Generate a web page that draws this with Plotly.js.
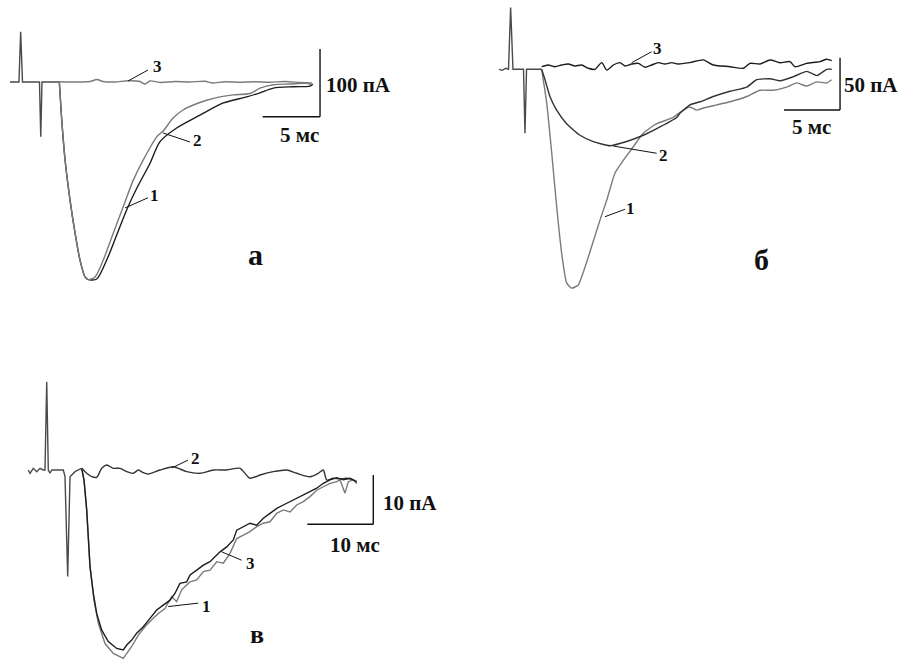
<!DOCTYPE html>
<html>
<head>
<meta charset="utf-8">
<script src="https://cdn.plot.ly/plotly-3.0.1.min.js"></script>
<style>html,body{margin:0;padding:0;background:#fff;}#chart{width:905px;height:660px;}</style>
</head>
<body>
<div id="chart"></div>
<script>
// ---------- Panel а (time, ms ; current, pA) ----------
const artA_t = [0, 0.5, 0.78, 0.93, 1.09, 1.5, 2.57, 2.68, 2.79, 3.2, 3.9, 4.3];
const artA_i = [0, 0, 0, 74, 0, 0, 0, -81, 0, 0, 0, 0];
const a1_t = [4.30,4.40,4.51,4.80,5.23,5.67,6.10,6.54,6.83,7.56,8.43,9.30,10.17,11.05,12.21,13.08,14.53,16.56,18.6,20.64,21.80,22.96,24.70,26.16,26.4];
const a1_i = [0,-27,-56,-115,-174,-223,-263,-288,-292,-291,-263,-226,-189,-157,-120,-88,-68,-49,-31,-22,-16,-9,-7,-6,-3];
const a2_t = [4.30,4.40,4.51,4.80,5.23,5.67,6.10,6.54,6.83,7.41,8.13,9.01,9.88,10.75,11.62,12.79,13.37,14.24,15.11,15.98,17.15,18.31,19.47,20.92,21.80,22.96,24.41,25.87,26.30];
const a2_i = [0,-27,-56,-115,-174,-223,-263,-288,-292,-288,-263,-223,-184,-145,-115,-81,-72,-53,-41,-34,-27,-22,-19,-17,-9,-4,-3,-2,-4];
const a3_t = [4.30,5.67,6.97,7.58,8.11,9.15,10.29,11.33,11.77,12.21,13.08,14.39,15.69,17.0,17.61,18.74,20.05,21.36,22.67,23.98,25.28,26.33];
const a3_i = [0.4,0,0.7,3.7,0.7,0,1.9,0.7,-3,1.5,-0.7,0.7,0,1.0,-1.5,0.4,-0.4,0.4,-0.4,0.7,-0.7,-1.5];
const scaleA = {ms: 5, pA: 100};

// ---------- Panel б ----------
const artB_t = [0, 0.3, 0.6, 0.85, 1.04, 1.25, 1.6, 2.1, 2.19, 2.32, 2.46, 2.6, 3.81];
const artB_i = [0, -1, 1, 0, 59, 0, 0, 0, 0, -61, 0, 0, 0];
const b1_t = [3.81,4.26,4.71,5.15,5.60,6.04,6.49,7.08,7.68,8.28,9.02,9.62,10.36,11.1,11.99,12.88,14.08,15.56,16.16,17.05,17.65,18.25,19.44,20.63,22.12,23.3,24.49,25.68,26.58,27.47,28.37,29.26,29.7];
const b1_i = [0,-32,-80,-131,-176,-204,-209,-206,-189,-169,-144,-125,-99,-87,-74,-61,-52,-46,-41,-36,-39,-37,-34,-31,-26,-20,-20,-17,-13,-16,-12,-13,-10];
const b2_t = [3.81,4.11,4.55,5.15,6.04,7.23,8.42,9.91,11.4,12.88,14.38,15.87,16.16,17.05,17.95,19.13,20.63,22.12,23.0,24.2,25.1,26.3,27.47,28.4,29.26,29.7];
const b2_i = [0,-10,-26,-39,-52,-63,-69,-73,-69,-63,-55,-46,-42,-34,-31,-26,-21,-17,-10,-9,-11,-7,-2,-6,0,0];
const b3_t = [3.81,4.40,5.0,5.60,6.19,6.79,7.38,7.97,8.57,9.17,9.62,10.21,10.80,11.25,11.85,12.44,13.04,13.63,14.22,14.82,15.42,16.0,17.05,18.24,19.13,20.63,21.81,22.41,23.3,24.2,25.09,25.98,26.43,27.47,28.66,29.26,29.71];
const b3_i = [2.5,4.1,2.5,4.1,5.0,3.2,4.1,1.0,0,6.4,-0.7,4.1,6.4,3.2,5.0,5.7,1.9,4.1,6.4,5.0,6.4,5.0,6.4,9.0,4.1,2.5,1.0,5.7,5.1,8.9,6.3,7.3,2.5,5.7,7.3,9.6,8.2];
const scaleB = {ms: 5, pA: 50};

// ---------- Panel в ----------
const artV_t = [0,0.26,0.76,1.27,1.77,2.27,2.53,2.79,3.03,3.29,3.55,5.30,5.56,5.97,6.32,6.58,7.08,7.58,8.09];
const artV_i = [0,-0.67,0.34,-0.34,0.34,0,0,17.9,0,-0.67,0,0,-1.36,-21.6,-1.36,-1.0,-0.34,0,0.34];
const v1_t = [8.09,8.44,8.85,9.12,9.35,9.95,10.61,11.62,12.88,14.39,14.91,15.67,16.67,17.68,18.7,19.7,20.71,21.73,22.48,23.24,24.5,25.52,26.52,27.53,28.55,29.55,30.56,31.58,32.58,33.59,34.61,35.61,36.62,37.64,38.64,39.65,40.67,41.67,42.68,43.7,44.7,45.71,46.73,47.23,47.98,48.48,49.24,49.76];
const v1_i = [0.34,-2.03,-8.1,-14.2,-19.6,-26.4,-31.1,-35.2,-37.2,-38.2,-37.2,-35.8,-33.5,-31.8,-30.4,-29.1,-28.1,-25.7,-26.7,-24.3,-22.7,-22.3,-20.6,-20.3,-18.6,-18.9,-16.9,-13.9,-13.2,-12.5,-11.5,-10.8,-10.5,-8.8,-8.1,-8.5,-7.1,-6.4,-5.4,-4.1,-3.4,-2.7,-2.37,-2.0,-4.7,-2.37,-2.0,-2.7];
const v2_t = [8.09,8.85,9.61,10.36,11.12,11.88,12.88,13.89,14.91,15.91,16.67,17.42,18.18,19.95,21.97,24.0,26.02,28.03,30.06,32.08,33.59,35.11,37.12,39.15,40.67,42.68,43.94,44.7,45.21,46.21,47.23,48.24,49.24,49.76];
const v2_i = [0.34,-0.67,-1.36,-1.48,0.34,1.01,0.34,0.34,-0.34,-0.67,0,-0.55,-0.81,0,0.67,-0.34,-0.67,0,0,0.34,-1.68,-1.01,-0.34,0,-0.67,-1.36,-0.67,0,-2.03,-1.68,-1.83,-1.68,-2.03,-2.7];
const v3_t = [8.09,8.44,8.85,9.12,9.35,9.85,10.36,11.12,12.12,13.39,14.39,14.91,15.67,16.42,17.42,18.44,19.45,20.45,21.47,22.23,22.98,24.0,24.5,25.52,26.52,27.53,28.29,29.05,30.06,31.06,31.58,32.58,33.59,34.61,35.61,36.62,37.64,38.64,39.65,40.67,41.67,42.68,43.7,44.7,45.71,46.73,47.73,48.74,49.76];
const v3_i = [0.34,-2.03,-8.1,-14.2,-19.6,-25.0,-29.1,-32.5,-34.8,-36.2,-36.5,-35.5,-34.5,-33.1,-31.8,-30.1,-28.4,-27.4,-26.4,-25.0,-23.0,-22.7,-21.3,-20.3,-19.3,-18.6,-17.6,-16.6,-15.6,-14.2,-12.2,-11.5,-10.8,-11.2,-9.8,-8.8,-7.8,-7.1,-6.4,-5.7,-5.1,-4.4,-3.7,-2.7,-2.0,-1.56,-2.0,-1.68,-2.37];
const scaleV = {ms: 10, pA: 10};

const curveLabels = ['1', '2', '3'];
const panelLabels = ['а', 'б', 'в'];
const unitI = 'пА', unitT = 'мс';

// ---------- styling ----------
const BLACK = '#1c1c1c', GRAY = '#7a7a7a', ART = '#4a4a4a';
const LW = 1.4;
function tr(x, y, ax, color, smooth) {
  const ln = {color: color, width: LW, shape: smooth ? 'spline' : 'linear'};
  if (smooth) ln.smoothing = smooth;
  return {x: x, y: y, xaxis: 'x' + ax, yaxis: 'y' + ax, type: 'scatter', mode: 'lines',
          line: ln, hoverinfo: 'skip', showlegend: false};
}
const data = [
  tr(artA_t, artA_i, '', ART), tr(a3_t, a3_i, '', GRAY, 0.8), tr(a1_t, a1_i, '', BLACK, 0.8), tr(a2_t, a2_i, '', GRAY, 0.8),
  tr(artB_t, artB_i, '2', ART), tr(b3_t, b3_i, '2', BLACK, 0.7), tr(b1_t, b1_i, '2', GRAY, 0.5), tr(b2_t, b2_i, '2', '#333', 0.5),
  tr(artV_t, artV_i, '3', ART), tr(v2_t, v2_i, '3', '#333', 0.7), tr(v1_t, v1_i, '3', GRAY), tr(v3_t, v3_i, '3', BLACK)
];

const hid = {visible: false, showgrid: false, zeroline: false, fixedrange: true};
const layout = {
  width: 905, height: 660, autosize: false,
  margin: {l: 0, r: 0, t: 0, b: 0, pad: 0},
  paper_bgcolor: '#fff', plot_bgcolor: '#fff',
  xaxis:  Object.assign({}, hid, {domain: [0, 1], range: [-0.872, 78.03]}),
  yaxis:  Object.assign({}, hid, {domain: [0, 1], range: [-853.8, 121.1]}),
  xaxis2: Object.assign({}, hid, {overlaying: 'x', range: [-44.55, 36.25]}),
  yaxis2: Object.assign({}, hid, {overlaying: 'y', range: [-564.2, 66.19]}),
  xaxis3: Object.assign({}, hid, {overlaying: 'x', range: [-4.288, 132.83]}),
  yaxis3: Object.assign({}, hid, {overlaying: 'y', range: [-38.54, 95.33]}),
  shapes: [], annotations: []
};

const FONT = 'Liberation Serif, Times New Roman, serif';
function line(ax, x0, y0, x1, y1, w) {
  layout.shapes.push({type: 'line', xref: 'x' + ax, yref: 'y' + ax, x0: x0, y0: y0, x1: x1, y1: y1,
                      line: {color: '#111', width: w || 1}});
}
function txt(ax, x, y, s, size, xa) {
  layout.annotations.push({xref: 'x' + ax, yref: 'y' + ax, x: x, y: y, text: s, showarrow: false,
    xanchor: xa || 'center', yanchor: 'middle',
    font: {family: FONT, size: size, color: '#111', weight: 'bold'}});
}
function scalebar(ax, sc, tEnd, iLow, iTxtT, iTxtI, tTxtT, tTxtI) {
  line(ax, tEnd, iLow, tEnd, iLow + sc.pA, 1.4);
  line(ax, tEnd - sc.ms, iLow, tEnd, iLow, 1.4);
  txt(ax, iTxtT, iTxtI, sc.pA + ' ' + unitI, 21, 'left');
  txt(ax, tTxtT, tTxtI, sc.ms + ' ' + unitT, 21, 'center');
}
scalebar('', scaleA, 27.03, -51.3, 27.4, -4.4, 25.2, -78.3);
scalebar('2', scaleB, 30.45, -38.9, 30.6, -15, 27.9, -55);
scalebar('3', scaleV, 52.27, -11.0, 53.5, -6.7, 49.5, -15.2);

// leaders and curve numbers
line('', 10.29, 1.5, 12.03, 17.7); txt('', 12.9, 22.2, curveLabels[2], 17);
line('', 13.34, -75.3, 15.69, -88.6); txt('', 16.39, -86.5, curveLabels[1], 17);
line('', 10.03, -186, 12.03, -171); txt('', 12.64, -167, curveLabels[0], 17);
txt('', 21.36, -255.5, panelLabels[0], 30);

line('2', 11.85, 6.3, 13.63, 16.8); txt('2', 14.15, 20, curveLabels[2], 17);
line('2', 10.21, -73.3, 14.08, -80.2); txt('2', 14.67, -82.8, curveLabels[1], 17);
line('2', 9.46, -140.8, 11.25, -133.7); txt('2', 11.75, -132.8, curveLabels[0], 17);
txt('2', 23.45, -182, panelLabels[1], 30);

line('3', 21.73, 0.4, 24.2, 2.0); txt('3', 25.26, 2.4, curveLabels[1], 17);
line('3', 29.3, -16.6, 32.33, -18.3); txt('3', 33.59, -18.9, curveLabels[2], 17);
line('3', 21.2, -27.7, 25.76, -27.0); txt('3', 27.0, -27.6, curveLabels[0], 17);
txt('3', 34.65, -33.3, panelLabels[2], 26);

Plotly.newPlot('chart', data, layout, {staticPlot: true, displayModeBar: false});
</script>
</body>
</html>
